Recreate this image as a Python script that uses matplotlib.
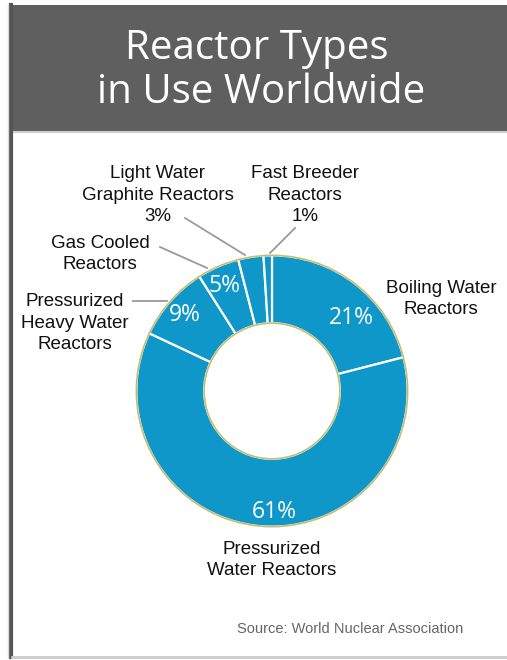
import matplotlib.pyplot as plt
from matplotlib.patches import Rectangle, Circle

# data
types = ['Boiling Water\nReactors', 'Pressurized\nWater Reactors',
         'Pressurized\nHeavy Water\nReactors', 'Gas Cooled\nReactors',
         'Light Water\nGraphite Reactors\n3%', 'Fast Breeder\nReactors\n1%']
shares = [21, 61, 9, 5, 3, 1]
pct_labels = ['21%', '61%', '9%', '5%']

W, H = 507, 660
BLUE = '#0f97c9'

fig = plt.figure(figsize=(W / 100, H / 100), dpi=100)
fig.patch.set_facecolor('white')

# donut, centre (272, 391) px, radius 137 px
cx, cy, r = 272, 391, 137
pax = fig.add_axes([(cx - r) / W, (H - cy - r) / H, 2 * r / W, 2 * r / H])
pax.pie(shares, startangle=90, counterclock=False, colors=[BLUE] * len(shares),
        radius=1, wedgeprops=dict(width=0.5, edgecolor='white', linewidth=1.6))
pax.add_patch(Circle((0, 0), 1.0, fill=False, edgecolor='#c4bd72', linewidth=1.2))
pax.add_patch(Circle((0, 0), 0.5, fill=False, edgecolor='#c4bd72', linewidth=1.2))
pax.set_xlim(-1.01, 1.01)
pax.set_ylim(-1.01, 1.01)
pax.set_aspect('equal')
pax.axis('off')

# overlay in pixel coordinates
ax = fig.add_axes([0, 0, 1, 1], zorder=5)
ax.set_xlim(0, W)
ax.set_ylim(H, 0)
ax.patch.set_alpha(0)
ax.axis('off')

# frame and header
ax.add_patch(Rectangle((9, 5), W - 9, 126, facecolor='#5f5f5f', edgecolor='none'))
ax.plot([W, 9], [132, 132], color='#d0d0d0', lw=1.5)
ax.plot([11, 11], [5, 657], color='#555555', lw=3)
ax.plot([8, 8], [5, 657], color='#d8d8d8', lw=1)
ax.plot([12, W], [657, 657], color='#cccccc', lw=2)

tf = 'Open Sans'
ax.text(257, 49, 'Reactor Types', color='white', fontsize=29, family=tf,
        ha='center', va='center')
ax.text(261, 93, 'in Use Worldwide', color='white', fontsize=29, family=tf,
        ha='center', va='center')

# percentages inside the ring
pct_pos = [(351, 318), (274, 512), (185, 315), (225, 286)]
for lab, (x, y) in zip(pct_labels, pct_pos):
    ax.text(x, y, lab, color='white', fontsize=16.5, family=tf,
            ha='center', va='center')

# outside labels
lf = 'Liberation Sans'
lc = '#111111'
lab_pos = [(441, 299), (272, 560), (75, 323), (100, 254), (158, 195), (305, 195)]
for lab, (x, y) in zip(types, lab_pos):
    ax.text(x, y, lab, color=lc, fontsize=13.5, family=lf, ha='center',
            va='center', linespacing=1.32)

# leader lines
lg = '#9a9a9a'
ax.plot([185, 245], [218, 255], color=lg, lw=1.3)
ax.plot([295, 270], [228, 253], color=lg, lw=1.3)
ax.plot([160, 207], [247, 268], color=lg, lw=1.3)
ax.plot([133, 167], [301, 301], color=lg, lw=1.3)

ax.text(350, 629, 'Source: World Nuclear Association', color='#666666',
        fontsize=10.5, family=lf, ha='center', va='center')

fig.savefig('out.png', dpi=100)
